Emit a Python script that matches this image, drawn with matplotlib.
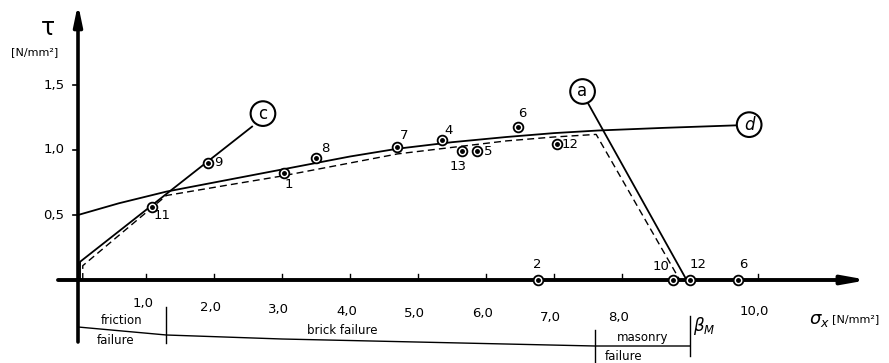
import matplotlib
matplotlib.use("Agg")
import matplotlib.pyplot as plt
import numpy as np

# ---------------- data ----------------
# test points (sigma_x [N/mm2], tau [N/mm2])
pt_sigma = [1.09, 1.91, 3.03, 3.50, 4.69, 5.35, 5.65, 5.87, 6.47, 7.04]
pt_tau = [0.56, 0.90, 0.82, 0.94, 1.02, 1.08, 0.99, 0.99, 1.18, 1.05]
pt_labels = ["11", "9", "1", "8", "7", "4", "13", "5", "6", "12"]

# test points on the sigma axis (tau = 0)
base_sigma = [6.76, 8.75, 9.00, 9.70]
base_labels = ["2", "10", "12", "6"]

# failure curves
c_sigma = [0.03, 0.03, 2.56]
c_tau = [0.0, 0.14, 1.18]
d_sigma = [0.0, 0.6, 1.3, 2.2, 3.0, 4.0, 4.7, 5.5, 6.3, 7.0, 7.65, 8.6, 9.7]
d_tau = [0.50, 0.59, 0.68, 0.77, 0.85, 0.95, 1.01, 1.06, 1.10, 1.13, 1.15, 1.17, 1.19]
a_sigma = [7.50, 8.95]
a_tau = [1.36, 0.0]
env_sigma = [0.07, 0.07, 1.3, 2.2, 3.0, 4.0, 4.7, 5.5, 6.3, 7.0, 7.62, 8.85]
env_tau = [0.0, 0.11, 0.65, 0.73, 0.80, 0.90, 0.97, 1.02, 1.07, 1.10, 1.12, 0.0]

x_ticks = [1, 2, 3, 4, 5, 6, 7, 8, 10]
x_tick_labels = ["1,0", "2,0", "3,0", "4,0", "5,0", "6,0", "7,0", "8,0", "10,0"]
y_ticks = [0.5, 1.0, 1.5]
y_tick_labels = ["0,5", "1,0", "1,5"]
beta_M = 9.0
zone_bounds = [0.0, 1.3, 7.6, 9.0]

# ---------------- figure ----------------
W, H = 889, 363
fig = plt.figure(figsize=(W / 100, H / 100), dpi=100)
ax = fig.add_axes([0, 0, 1, 1])
X0, SX = 78, 68.0     # pixel of sigma=0, px per unit
Y0, SY = 280, 130.0   # pixel of tau=0, px per unit
ax.set_xlim(-X0 / SX, (W - X0) / SX)
ax.set_ylim(-(H - Y0) / SY, Y0 / SY)
ax.axis("off")

def py(p):  # pixel row -> tau
    return (Y0 - p) / SY

def px(p):  # pixel col -> sigma
    return (p - X0) / SX

fs = 9.5
# axes
ax.annotate("", xy=(0, py(4)), xytext=(0, py(342)),
            arrowprops=dict(arrowstyle="-|>,head_length=1.2,head_width=0.25",
                            lw=2.6, color="black", shrinkA=0, shrinkB=0))
ax.annotate("", xy=(px(868), 0), xytext=(px(58), 0),
            arrowprops=dict(arrowstyle="-|>,head_length=1.4,head_width=0.25",
                            lw=2.8, color="black", shrinkA=0, shrinkB=0))

# ticks
for yt, lab in zip(y_ticks, y_tick_labels):
    ax.plot([px(73), 0], [yt, yt], color="black", lw=1.2)
    ax.text(px(54), yt, lab, ha="center", va="center", fontsize=fs)
tick_label_rows = [303, 307, 310, 312, 313, 314, 317, 318, 311]
for xt, lab, row in zip(x_ticks, x_tick_labels, tick_label_rows):
    ax.plot([xt, xt], [0, py(274)], color="black", lw=1.0)
    ax.text(xt - 0.05, py(row), lab, ha="center", va="center", fontsize=fs)

# axis labels
ax.text(px(48), py(28), "τ", ha="center", va="center", fontsize=17)
ax.text(px(35), py(52), "[N/mm²]", ha="center", va="center", fontsize=8)
ax.text(px(819), py(320), r"$\sigma_x$", ha="center", va="center", fontsize=13)
ax.text(px(832), py(319), "[N/mm²]", ha="left", va="center", fontsize=8)

# curves
ax.plot(c_sigma, c_tau, color="black", lw=1.3)
ax.plot(d_sigma, d_tau, color="black", lw=1.3)
ax.plot(a_sigma, a_tau, color="black", lw=1.3)
ax.plot(env_sigma, env_tau, color="black", lw=1.0, ls=(0, (5, 3)))

# circled curve names
circ = dict(boxstyle="circle,pad=0.2", fc="white", ec="black", lw=1.5)
ax.text(c_sigma[-1] + 0.16, c_tau[-1] + 0.1, "c", ha="center", va="center",
        fontsize=12, bbox=circ)
ax.text(a_sigma[0] - 0.08, a_tau[0] + 0.09, "a", ha="center", va="center",
        fontsize=12, bbox=circ)
ax.text(d_sigma[-1] + 0.17, d_tau[-1] + 0.005, "d", ha="center", va="center",
        fontsize=12, bbox=circ, style="italic")

# test points
def marker(s, t):
    ax.plot(s, t, "o", ms=7, mfc="white", mec="black", mew=1.3, zorder=5)
    ax.plot(s, t, "o", ms=2.5, color="black", zorder=6)

offsets = {"11": (10, 8), "9": (10, 0), "1": (5, 11), "8": (9, -9),
           "7": (7, -12), "4": (7, -9), "13": (-4, 15), "5": (11, 0),
           "6": (4, -13), "12": (13, 1)}
for s, t, lab in zip(pt_sigma, pt_tau, pt_labels):
    marker(s, t)
    dx, dy = offsets[lab]
    ax.text(s + dx / SX, t - dy / SY, lab, ha="center", va="center", fontsize=fs)

boffsets = {"2": (0, -15), "10": (-12, -13), "12": (8, -15), "6": (6, -15)}
for s, lab in zip(base_sigma, base_labels):
    marker(s, 0)
    dx, dy = boffsets[lab]
    ax.text(s + dx / SX, -dy / SY, lab, ha="center", va="center", fontsize=fs)

# failure zone bracket
ax.plot([0.0, 1.3, 3.0, 7.6, 9.0], [py(327), py(335), py(339), py(346), py(346)],
        color="black", lw=1.0)
ax.plot([zone_bounds[1]] * 2, [py(307), py(343)], color="black", lw=1.0)
ax.plot([zone_bounds[2]] * 2, [py(330), py(362)], color="black", lw=1.0)
ax.plot([beta_M] * 2, [py(316), py(356)], color="black", lw=1.0)
ax.text(px(122), py(321), "friction", ha="center", va="center", fontsize=8.5)
ax.text(px(116), py(341), "failure", ha="center", va="center", fontsize=8.5)
ax.text(px(342), py(331), "brick failure", ha="center", va="center", fontsize=8.5)
ax.text(px(643), py(337), "masonry", ha="center", va="center", fontsize=8.5)
ax.text(px(624), py(356), "failure", ha="center", va="center", fontsize=8.5)
ax.text(px(704), py(326), r"$\beta_M$", ha="center", va="center", fontsize=12)

fig.savefig("out.png", dpi=100)
